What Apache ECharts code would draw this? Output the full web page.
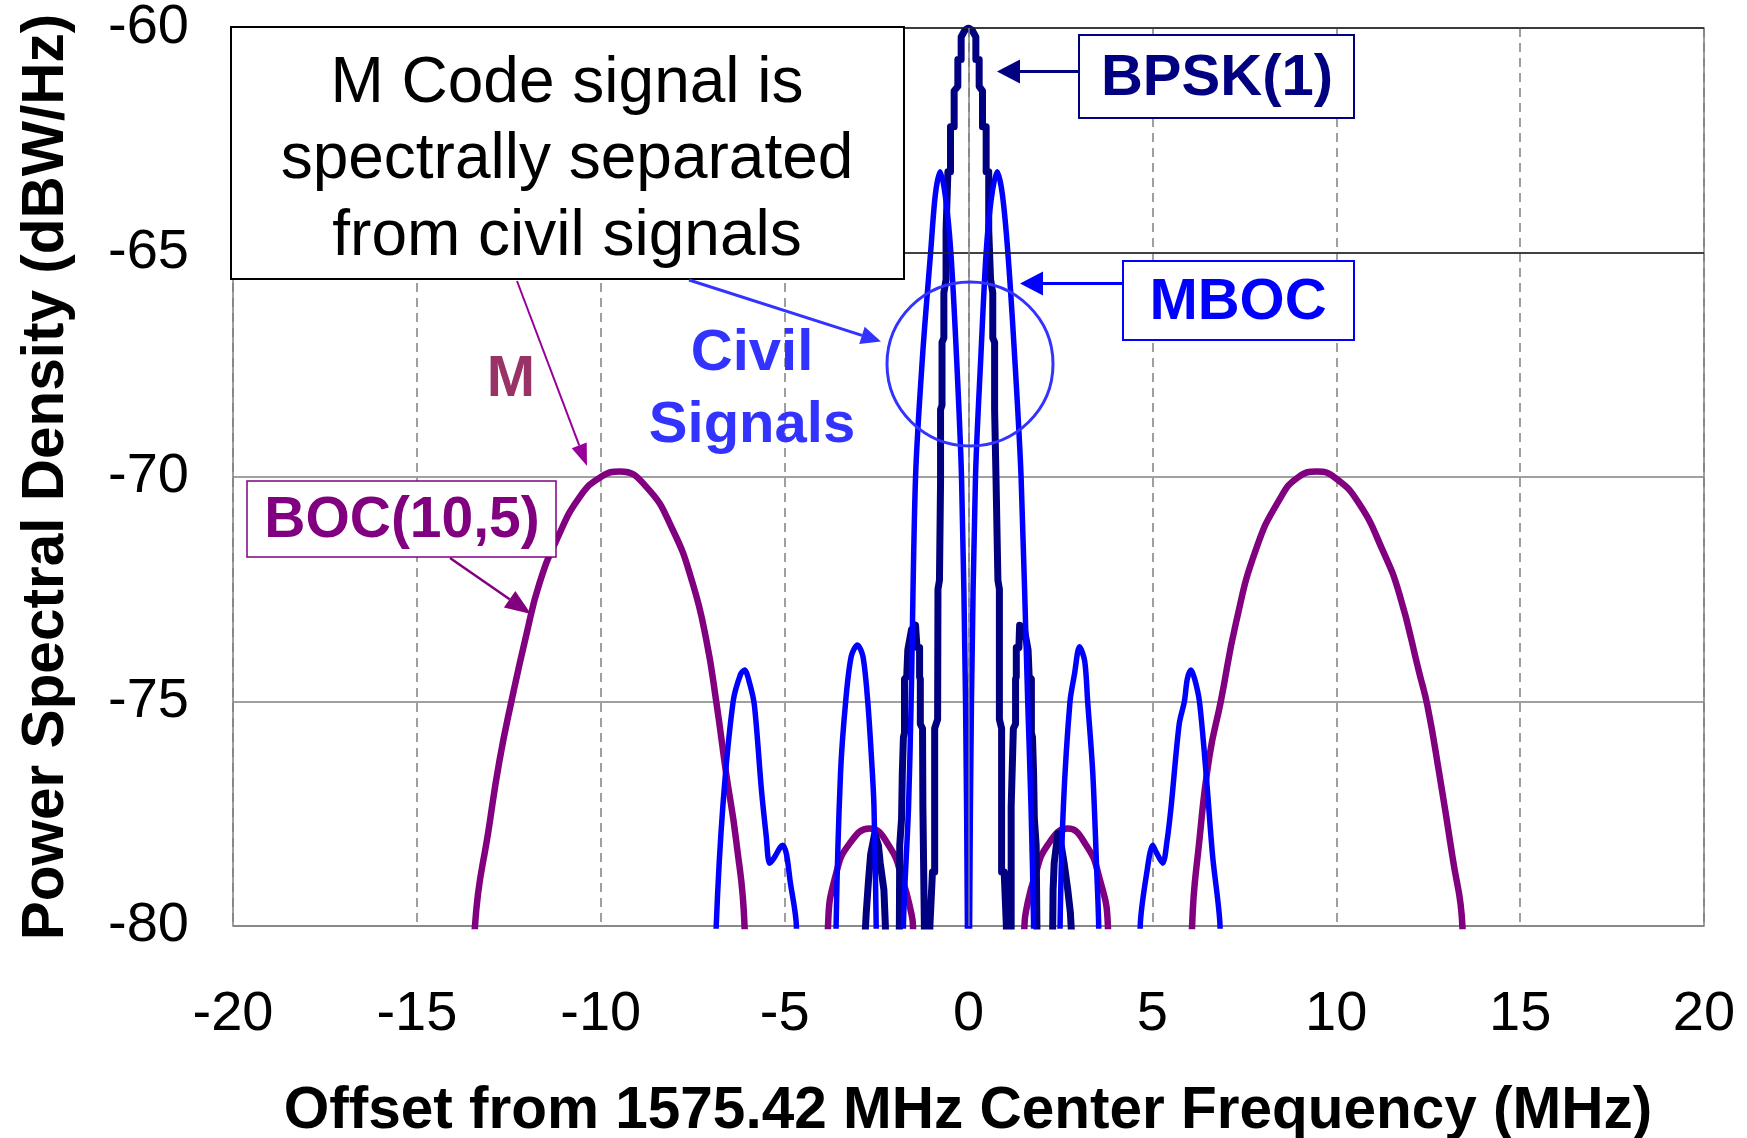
<!DOCTYPE html>
<html>
<head>
<meta charset="utf-8">
<title>M Code vs civil signal spectra</title>
<script src="https://cdn.jsdelivr.net/npm/echarts@6/dist/echarts.min.js"></script>
<style>
    html, body { margin: 0; padding: 0; background: #fff; }
    #myChart { width: 1747px; height: 1138px; }
</style>
</head>
<body>
<div id="myChart"></div>
<script>
    // BPSK(1) - navy, drawn with the stair steps of the original plot
    var bpskFreq = [-3.2, -2.8, -2.78, -2.72, -2.66, -2.55, -2.45, -2.4, -2.3, -2.26, -2.2,
                    -1.95, -1.88, -1.87, -1.82, -1.8, -1.77, -1.74, -1.74, -1.68, -1.65, -1.55, -1.44, -1.42, -1.4, -1.33, -1.33, -1.31, -1.31, -1.25, -1.24, -1.2, -1.2, -1.14,
                    -1.1, -1.05, -0.98, -0.92, -0.92, -0.84, -0.83, -0.79, -0.76, -0.76, -0.72, -0.72, -0.67, -0.67, -0.61, -0.61, -0.56, -0.56, -0.49, -0.49, -0.39, -0.39, -0.29, -0.29, -0.2, -0.2, -0.1, 0,
                    0.1, 0.2, 0.2, 0.29, 0.29, 0.38, 0.38, 0.48, 0.48, 0.55, 0.55, 0.6, 0.6, 0.66, 0.66, 0.71, 0.71, 0.75, 0.75, 0.8, 0.84, 0.84, 0.9, 0.9, 0.97, 1.03, 1.08,
                    1.12, 1.16, 1.16, 1.21, 1.22, 1.28, 1.28, 1.3, 1.3, 1.37, 1.39, 1.43, 1.52, 1.62, 1.65, 1.71, 1.71, 1.74, 1.77, 1.79, 1.84, 1.86, 1.92,
                    2.2, 2.29, 2.3, 2.33, 2.43, 2.52, 2.6, 2.7, 2.77, 2.79, 3.2]
    var bpskPsd  = [-86, -80, -79.7, -79.0, -78.4, -77.94, -78.2, -78.6, -79.2, -80, -86,
                    -86, -80, -78.2, -77.6, -76.6, -75.8, -75.7, -74.5, -74.45, -73.85, -73.4, -73.3, -73.3, -73.8, -73.8, -74.45, -74.5, -75.5, -75.6, -77.35, -77.35, -80, -86,
                    -86, -80, -78.8, -78.8, -75.6, -75.4, -72.5, -72.3, -70.1, -68.5, -68.4, -67.0, -66.9, -65.9, -65.6, -64.5, -64.5, -63.2, -63.2, -62.2, -62.2, -61.4, -61.3, -60.7, -60.7, -60.2, -60.05, -60.0,
                    -60.05, -60.2, -60.7, -60.7, -61.3, -61.4, -62.2, -62.2, -63.2, -63.2, -64.5, -64.5, -65.6, -65.9, -66.9, -67.0, -68.5, -68.5, -70.1, -72.3, -72.5, -75.4, -75.6, -78.8, -78.8, -80, -86,
                    -86, -80, -77.35, -77.35, -75.6, -75.5, -74.5, -74.45, -73.8, -73.8, -73.3, -73.3, -73.4, -73.85, -74.45, -74.5, -75.7, -75.8, -76.6, -77.6, -78.2, -80, -86,
                    -86, -80, -79.2, -78.6, -77.94, -78.2, -78.6, -79.2, -79.7, -80, -86]

    // MBOC - blue
    var mbocFreq = [-7.1, -6.86, -6.68, -6.4, -6.2, -6.09, -5.95, -5.82, -5.63, -5.5, -5.41, -5.3, -5.12, -5.05, -4.95, -4.85, -4.68, -4.6,
                    -3.68, -3.6, -3.48, -3.34, -3.19, -3.02, -2.87, -2.74, -2.64, -2.57, -2.51, -2.43,
                    -1.85, -1.77, -1.63, -1.56, -1.44, -1.245, -1.03, -0.9, -0.77, -0.62, -0.48, -0.33, -0.19, -0.08, -0.03, 0,
                    0.03, 0.08, 0.19, 0.34, 0.48, 0.62, 0.78, 0.92, 1.07, 1.25, 1.43, 1.61, 1.7, 1.77, 1.85,
                    2.41, 2.49, 2.58, 2.76, 2.88, 3.02, 3.16, 3.24, 3.38, 3.49, 3.54, 3.62,
                    4.6, 4.67, 4.85, 5.01, 5.1, 5.28, 5.4, 5.51, 5.73, 5.87, 5.95, 6.05, 6.15, 6.28, 6.46, 6.64, 6.84, 7.0]
    var mbocPsd  = [-86, -80, -77.34, -75, -74.4, -74.3, -74.6, -75.1, -76.97, -78.0, -78.6, -78.5, -78.25, -78.2, -78.4, -79.0, -80, -86,
                    -86, -80, -76.6, -75, -74.0, -73.74, -74.0, -75, -76.23, -77.34, -80, -86,
                    -86, -80, -77.34, -75, -70, -67.25, -65, -63.7, -63.2, -63.8, -65, -67.25, -70, -75, -80, -86,
                    -80, -75, -70, -67.25, -65, -63.8, -63.2, -63.7, -65, -67.25, -70, -75, -77.34, -80, -86,
                    -86, -80, -77.34, -75, -74.4, -73.78, -74.1, -75, -76.6, -78.83, -80, -86,
                    -86, -80, -78.8, -78.2, -78.35, -78.6, -78.1, -77.34, -75.5, -75.0, -74.5, -74.3, -74.5, -75, -76.6, -78.46, -80, -86]

    // BOC(10,5) - purple
    var bocFreq = [-13.7, -13.42, -13.02, -12.75, -12.43, -12.02, -11.66, -11.2, -10.57, -9.98, -9.48, -8.76, -8.04, -7.5, -7.13, -6.86, -6.59, -6.32, -6.09, -5.95,
                   -3.95, -3.82, -3.6, -3.23, -2.69, -2.15, -1.79, -1.56, -1.51, -1.4,
                   1.4, 1.52, 1.58, 1.8, 2.15, 2.7, 3.2, 3.55, 3.79, 3.92,
                   5.95, 6.08, 6.28, 6.55, 6.86, 7.27, 7.81, 8.45, 8.99, 9.47, 9.99, 10.62, 11.26, 11.71, 12.26, 12.48, 12.8, 13.16, 13.43, 13.6]
    var bocPsd  = [-86, -80, -77.7, -76.3, -75, -73.5, -72.35, -71.4, -70.44, -69.99, -69.88, -70.22, -71.18, -72.37, -73.63, -75, -76.6, -78.08, -80, -86,
                   -86, -80, -78.83, -78.16, -77.83, -78.23, -78.98, -79.7, -80, -86,
                   -86, -80, -79.6, -78.9, -78.2, -77.83, -78.2, -78.9, -80, -86,
                   -86, -80, -78.08, -76.23, -75, -73.26, -71.63, -70.51, -69.99, -69.88, -70.03, -70.59, -71.63, -72.59, -74.37, -75.1, -76.6, -78.46, -80, -86]

    var yTicks = [-80, -75, -70, -65, -60]
    var xTicks = [-20, -15, -10, -5, 0, 5, 10, 15, 20]

    var FONT = '"Liberation Sans", Arial, sans-serif'

    function pairs (xs, ys) {
        return xs.map(function (x, i) { return [x, ys[i]] })
    }

    // arrow = line + triangular head, tip at (x2, y2)
    function arrow (x1, y1, x2, y2, color, width, len, half) {
        var dx = x2 - x1, dy = y2 - y1
        var d = Math.sqrt(dx * dx + dy * dy)
        var ux = dx / d, uy = dy / d
        var bx = x2 - ux * len, by = y2 - uy * len
        return [
            { type: 'line', z: 100, shape: { x1: x1, y1: y1, x2: bx, y2: by }, style: { stroke: color, lineWidth: width } },
            { type: 'polygon', z: 100, shape: { points: [[x2, y2], [bx - uy * half, by + ux * half], [bx + uy * half, by - ux * half]] }, style: { fill: color } }
        ]
    }

    function label (text, x, y, size, color, bold, rot) {
        return {
            type: 'text', z: 101, x: x, y: y, rotation: rot || 0,
            style: {
                text: text, fill: color,
                font: (bold ? 'bold ' : '') + size + 'px ' + FONT,
                align: 'center', verticalAlign: 'middle'
            }
        }
    }

    var graphics = [
        { type: 'rect', z: 100, shape: { x: 231, y: 27, width: 673, height: 252 }, style: { fill: '#fff', stroke: '#000', lineWidth: 2 } },
        label('M Code signal is', 567, 84, 64, '#000', false),
        label('spectrally separated', 567, 160, 64, '#000', false),
        label('from civil signals', 567, 237, 64, '#000', false),

        { type: 'rect', z: 100, shape: { x: 1079, y: 35, width: 275, height: 83 }, style: { fill: '#fff', stroke: '#000080', lineWidth: 2 } },
        label('BPSK(1)', 1217, 79, 58, '#000080', true),

        { type: 'rect', z: 100, shape: { x: 1123, y: 261, width: 231, height: 79 }, style: { fill: '#fff', stroke: '#0000ff', lineWidth: 2 } },
        label('MBOC', 1238, 303, 58, '#0000ff', true),

        { type: 'ellipse', z: 100, shape: { cx: 970, cy: 364, rx: 83, ry: 82 }, style: { fill: 'none', stroke: '#3333ff', lineWidth: 3 } },
        label('Civil', 752, 354, 58, '#3333ff', true),
        label('Signals', 752, 426, 58, '#3333ff', true),

        label('M', 511, 380, 58, '#993366', true),

        { type: 'rect', z: 100, shape: { x: 247, y: 481, width: 309, height: 76 }, style: { fill: '#fff', stroke: '#800080', lineWidth: 1.5 } },
        label('BOC(10,5)', 402, 521, 57, '#800080', true),

        label('Offset from 1575.42 MHz Center Frequency (MHz)', 968, 1112, 58.5, '#000', true),
        label('Power Spectral Density (dBW/Hz)', 47, 477, 58.5, '#000', true, Math.PI / 2)
    ]
    graphics = graphics
        .concat(arrow(1079, 71.5, 997, 71.5, '#000080', 3, 23, 12))
        .concat(arrow(1123, 283.5, 1020, 283.5, '#0000ff', 3, 23, 12))
        .concat(arrow(689, 280, 881, 341.5, '#3333ff', 3, 20, 9))
        .concat(arrow(517, 281, 587, 466, '#990099', 2, 22, 8))
        .concat(arrow(450, 558, 531, 614, '#800080', 2.5, 26, 10))

    var myChart = echarts.init(document.getElementById('myChart'))

    myChart.setOption({
        animation: false,
        backgroundColor: '#fff',
        grid: {
            left: 233, top: 28, width: 1471, height: 898,
            show: true, borderColor: '#808080', borderWidth: 1.5
        },
        xAxis: {
            type: 'value', min: xTicks[0], max: xTicks[xTicks.length - 1], interval: 5,
            axisLine: { show: false },
            axisTick: { show: false },
            axisLabel: { fontSize: 56, fontFamily: FONT, color: '#000', margin: 61 },
            splitLine: { show: true, lineStyle: { color: '#808080', width: 1.5, type: [9, 6] } }
        },
        yAxis: {
            type: 'value', min: yTicks[0], max: yTicks[yTicks.length - 1], interval: 5,
            axisLine: { show: false },
            axisTick: { show: false },
            axisLabel: { fontSize: 56, fontFamily: FONT, color: '#000', margin: 44, padding: [8, 0, 0, 0] },
            splitLine: { show: true, lineStyle: { color: '#808080', width: 1.5 } }
        },
        graphic: graphics,
        series: [
            {
                name: 'BOC(10,5)', type: 'line', data: pairs(bocFreq, bocPsd),
                showSymbol: false, smooth: true, clip: true,
                lineStyle: { color: '#800080', width: 6.5 },
                markLine: {
                    silent: true, symbol: ['none', 'none'], label: { show: false },
                    data: [
                        { yAxis: -65, lineStyle: { color: '#222', width: 1.5, type: 'solid' } },
                        { yAxis: -60, lineStyle: { color: '#222', width: 1.5, type: 'solid' } },
                        { xAxis: 0, lineStyle: { color: '#808080', width: 1.5, type: 'solid' } }
                    ]
                }
            },
            {
                name: 'BPSK(1)', type: 'line', data: pairs(bpskFreq, bpskPsd),
                showSymbol: false, clip: true,
                lineStyle: { color: '#000080', width: 7, join: 'round' }
            },
            {
                name: 'MBOC', type: 'line', data: pairs(mbocFreq, mbocPsd),
                showSymbol: false, smooth: 0.3, clip: true,
                lineStyle: { color: '#0000ff', width: 5.5 }
            }
        ]
    })
</script>
</body>
</html>
